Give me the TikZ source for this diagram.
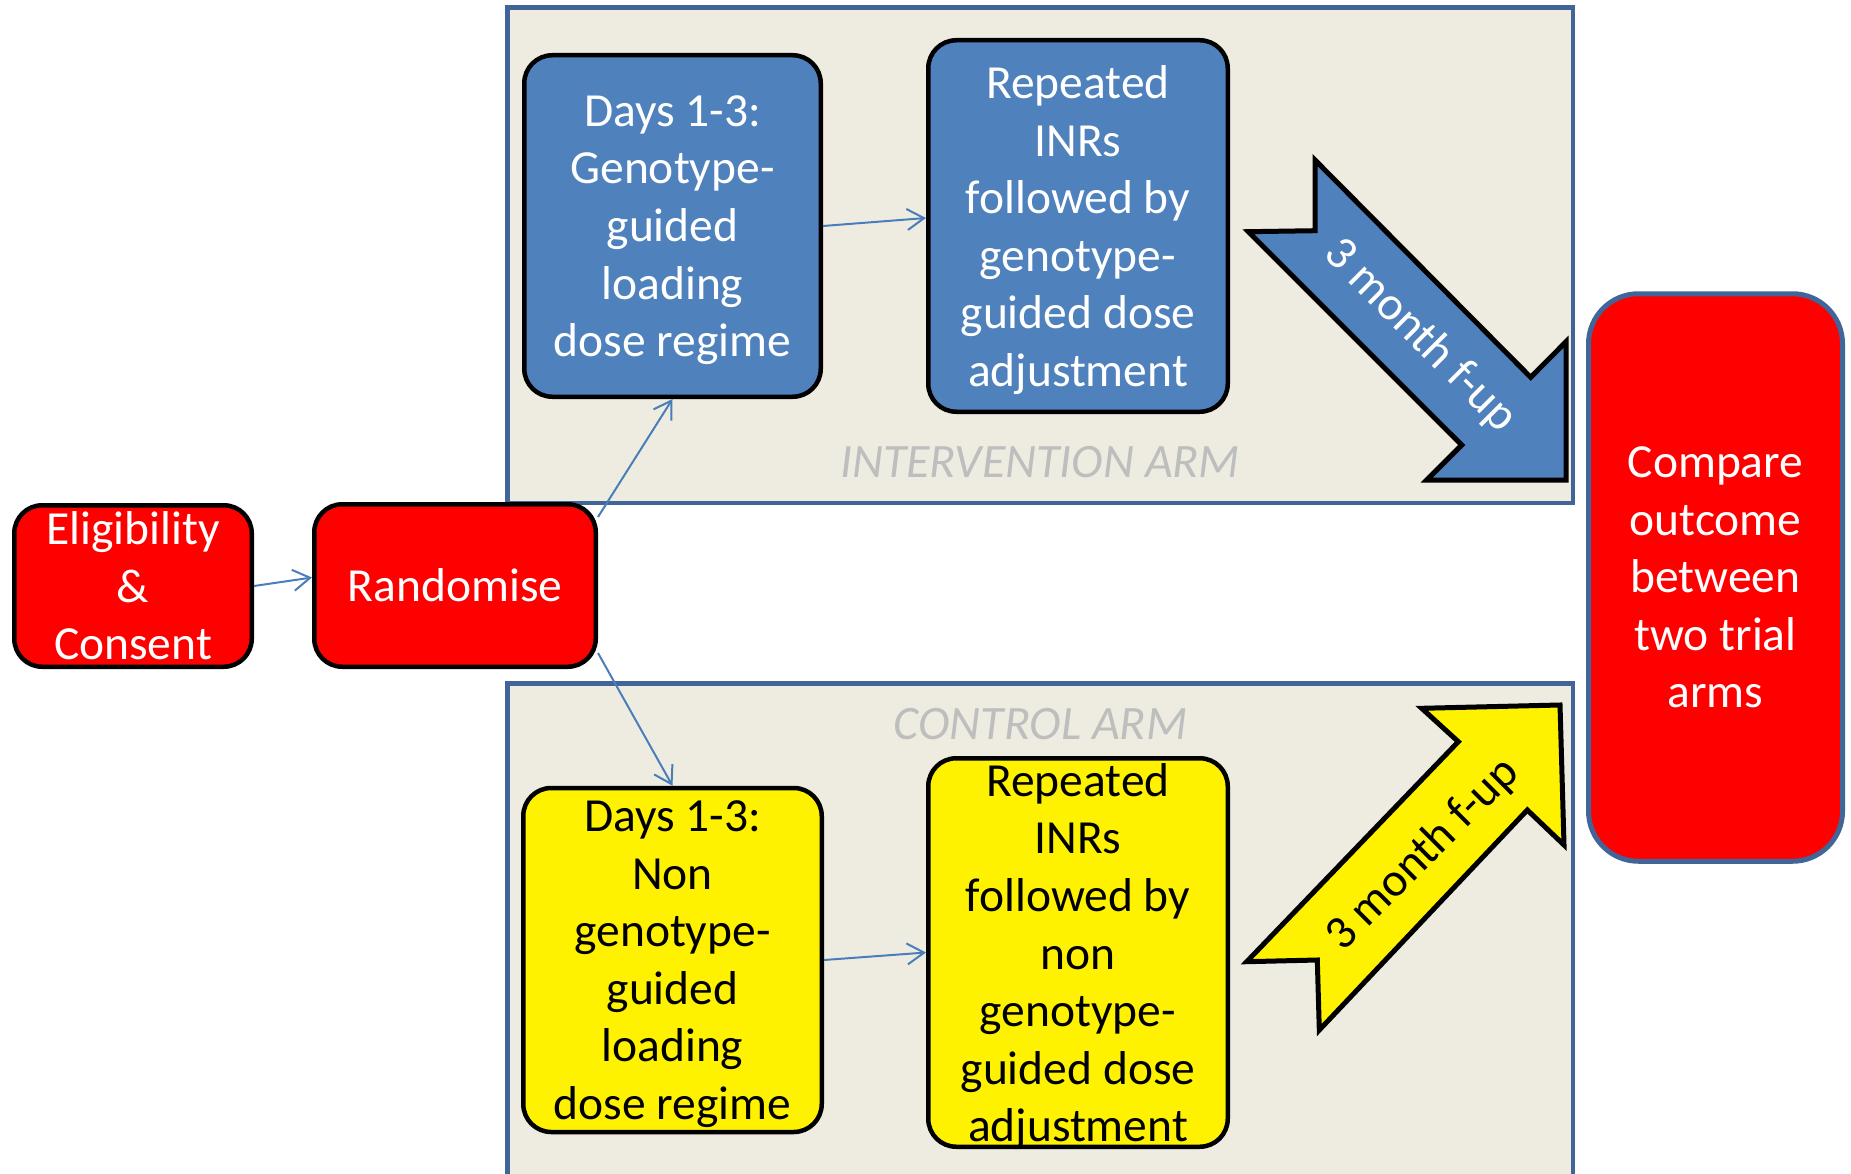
\documentclass[tikz,border=0pt]{standalone}
\usepackage{fontspec}
\setmainfont{Carlito}
\usetikzlibrary{arrows.meta}
\definecolor{panelfill}{HTML}{EEECE1}
\definecolor{paneldraw}{RGB}{65,101,152}
\definecolor{boxblue}{HTML}{4F81BD}
\definecolor{conncol}{HTML}{4A7EBB}
\definecolor{labelgray}{RGB}{190,190,190}
\newcommand{\nodepth}[1]{\raisebox{0pt}[\height][0pt]{#1}}
\begin{document}
\begin{tikzpicture}[x=1pt,y=-1pt,
  rbox/.style={draw=black,line width=4.5pt,rounded corners=28pt,inner sep=0pt,align=center,font=\fontsize{47.5}{57.6}\selectfont},
  redbox/.style={rbox,fill=red,text=white},
  bluebox/.style={rbox,fill=boxblue,text=white},
  yelbox/.style={rbox,fill=yellow,text=black},
  panel/.style={fill=panelfill,draw=paneldraw,line width=4.5pt},
  conn/.style={draw=conncol,line width=2pt,-{Straight Barb[length=17pt,width=21pt,line width=2pt]}},
  armlabel/.style={text=labelgray,font=\fontsize{48}{56}\selectfont\itshape,anchor=base,inner sep=0pt},
  blockarrow/.style={draw=black,line width=5pt,miter limit=10},
  arrowtext/.style={font=\fontsize{47.5}{57}\selectfont,inner sep=0pt}
]
\useasboundingbox (0,0) rectangle (1851,1174);
\clip (0,0) rectangle (1851,1174);

% panels
\draw[panel] (507.5,7.5) rectangle (1573,503);
\draw[panel] (507.5,683.5) rectangle (1573,1195);
\node[armlabel] (lint) at (1040,477) {INTERVENTION ARM};
\node[armlabel] (lctl) at (1040.5,739) {CONTROL ARM};

% boxes
\node[redbox,minimum width=237.5pt,minimum height=161.5pt] (elig) at (133,586) {Eligibility\\\&\\Consent};
\node[redbox,minimum width=281.5pt,minimum height=162.5pt] (rand) at (455,585.5) {Randomise};
\node[bluebox,minimum width=296.5pt,minimum height=341.5pt] (b1) at (672.5,226) {Days 1-3:\\Genotype-\\guided\\loading\\\nodepth{dose regime}};
\node[bluebox,minimum width=299.5pt,minimum height=371.5pt] (b2) at (1078,226) {Repeated\\INRs\\followed by\\genotype-\\guided dose\\\nodepth{adjustment}};
\node[yelbox,minimum width=298.5pt,minimum height=344pt] (y1) at (672.5,960) {Days 1-3:\\Non\\genotype-\\guided\\loading\\\nodepth{dose regime}};
\node[yelbox,minimum width=299.5pt,minimum height=388.5pt] (y2) at (1078,952.5) {Repeated\\INRs\\followed by\\non\\genotype-\\guided dose\\\nodepth{adjustment}};
\node[rbox,draw=paneldraw,line width=5pt,rounded corners=50pt,fill=red,text=white,minimum width=254pt,minimum height=567.5pt] (cmp) at (1715.5,577.5) {Compare\\outcome\\between\\two trial\\arms};

% block arrows
\draw[blockarrow,fill=boxblue] (1315,160) -- (1315,230.7) -- (1248.3,231.7) -- (1461.7,445) -- (1426.7,480) -- (1566,480) -- (1566,341.7) -- (1530.7,377.3) -- cycle;
\node[arrowtext,text=white,rotate=-45] (t1) at (1420,336) {3 month f-up};
\draw[blockarrow,fill=yellow] (1246.7,961.7) -- (1317.3,960) -- (1319.3,1030) -- (1527.3,810) -- (1564,845) -- (1560,705) -- (1421.7,708.3) -- (1458.3,741.7) -- cycle;
\node[arrowtext,text=black,rotate=45] (t2) at (1423,855) {3 month f-up};

% connectors
\draw[conn] (elig.east) -- ([yshift=8pt]rand.west);
\draw[conn] ([yshift=-15pt]rand.north east) -- (b1.south);
\draw[conn] ([yshift=16pt]rand.south east) -- (y1.north);
\draw[conn] (b1.east) -- ([yshift=8pt]b2.west);
\draw[conn] (y1.east) -- (y2.west);
\end{tikzpicture}
\end{document}
